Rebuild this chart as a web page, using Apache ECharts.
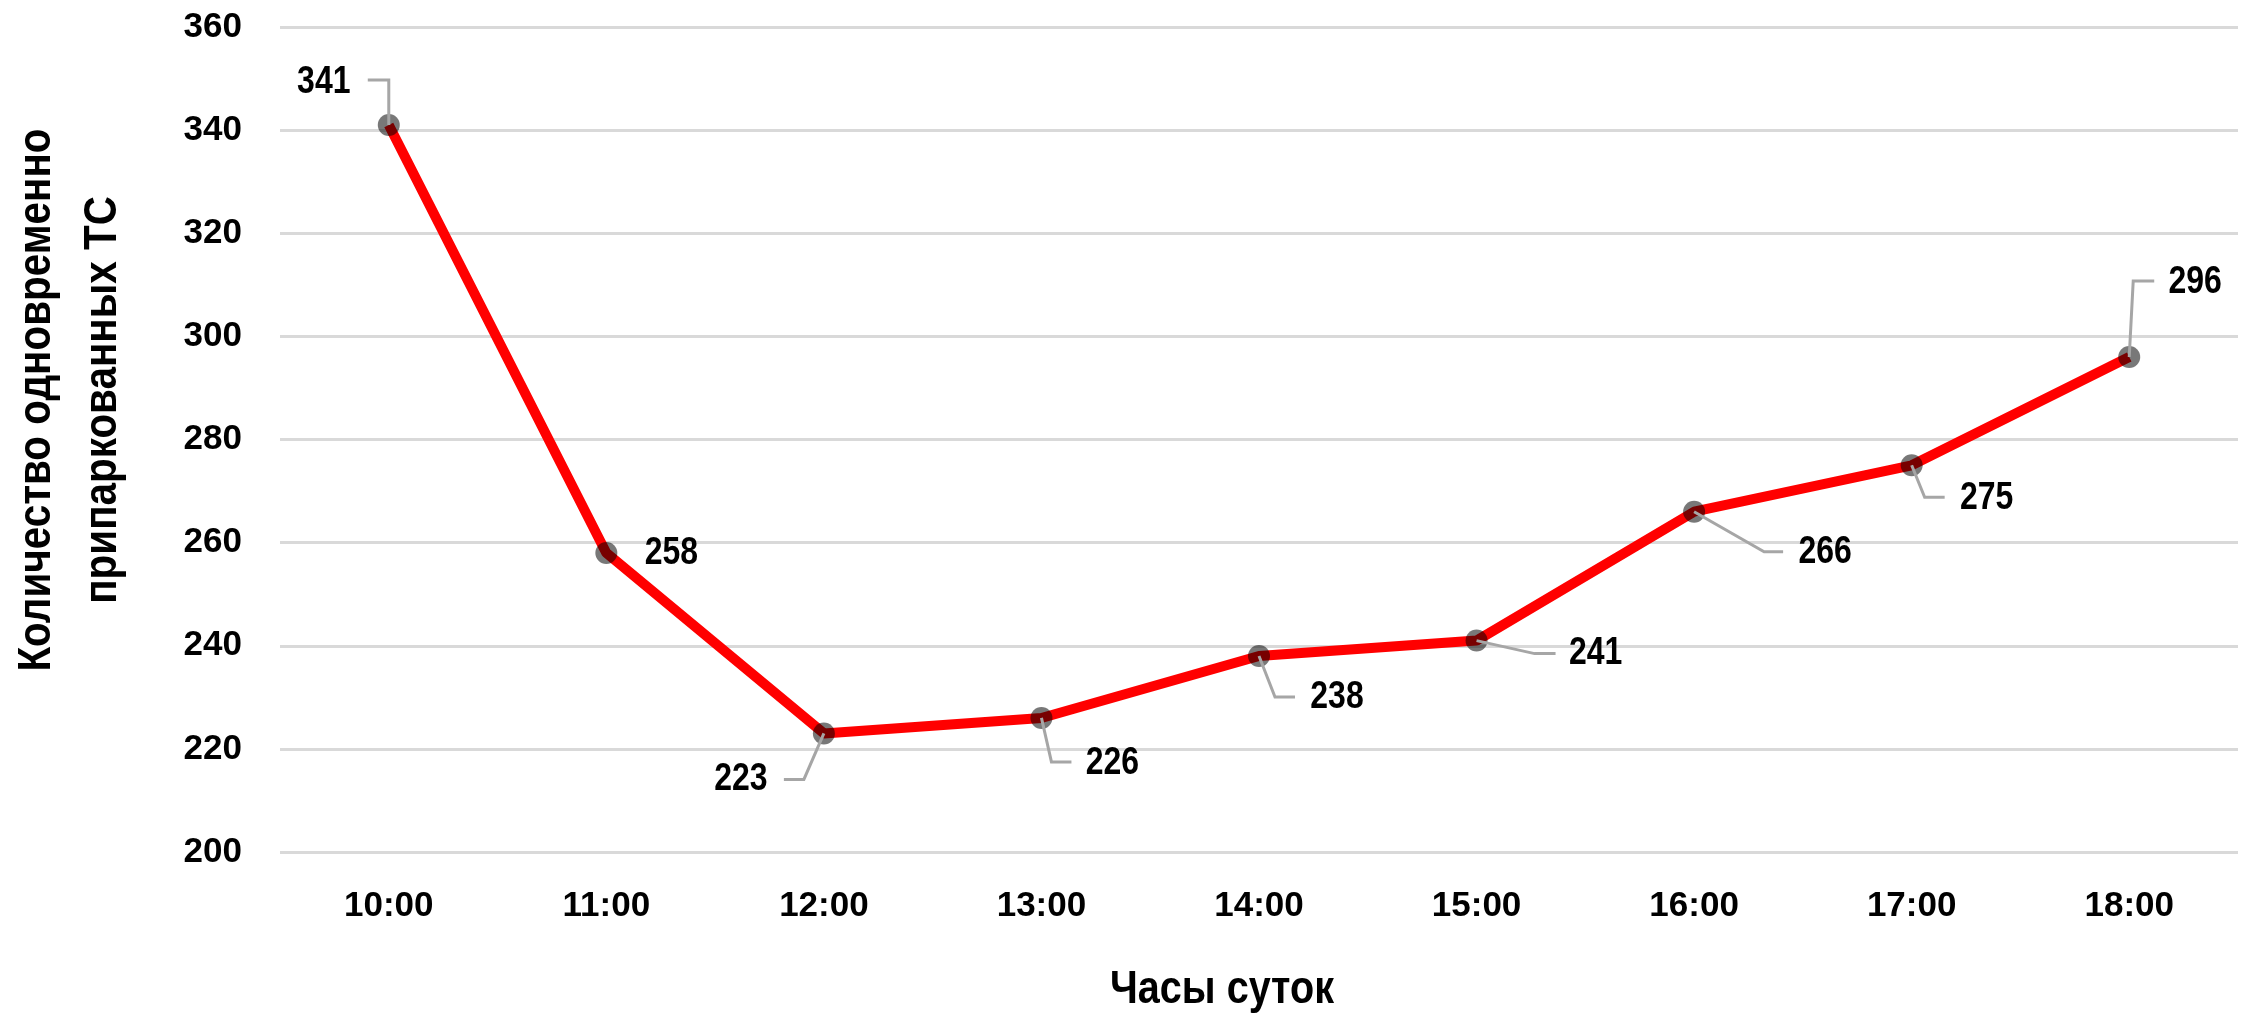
<!DOCTYPE html>
<html>
<head>
<meta charset="utf-8">
<script src="https://cdn.jsdelivr.net/npm/echarts@6/dist/echarts.min.js"></script>
<style>
html,body{margin:0;padding:0;background:#fff;}
#chart{width:2241px;height:1016px;}
</style>
</head>
<body>
<div id="chart"></div>
<script>
const categories = ['10:00','11:00','12:00','13:00','14:00','15:00','16:00','17:00','18:00'];
const parkedVehicles = [341, 258, 223, 226, 238, 241, 266, 275, 296];
const yAxisTitle = 'Количество одновременно\nприпаркованных ТС';
const xAxisTitle = 'Часы суток';

const FONT = "'Liberation Sans', Arial, sans-serif";
const NARROW = 0.82; // horizontal squeeze to imitate a narrow face
const TITLE_NARROW = 0.86;

// label offsets relative to each point: [labelDx, labelDy, elbowDx, elbowDy, endDx] (null elbow = no leader)
const labelPlacement = [
  [-65, -43, 0, -45, -21],
  [65, 0, null, null, null],
  [-83, 46, -20, 46, -40],
  [71, 45, 10, 44, 30],
  [78, 41, 16, 41, 36],
  [119, 13, 58, 13, 79],
  [131, 41, 70, 40, 89],
  [75, 33, 13, 32, 33],
  [66, -75, 4, -76, 25]
];

const chart = echarts.init(document.getElementById('chart'), null, {renderer: 'canvas'});
chart.setOption({
  backgroundColor: '#ffffff',
  animation: false,
  grid: {left: 280, right: 3, top: 27, bottom: 164, containLabel: false},
  xAxis: {
    type: 'category',
    data: categories,
    boundaryGap: true,
    axisLine: {show: false},
    axisTick: {show: false},
    axisLabel: {color: '#000', fontFamily: FONT, fontWeight: 'bold', fontSize: 35, margin: 37}
  },
  yAxis: {
    type: 'value',
    min: 200, max: 360, interval: 20,
    axisLine: {show: false},
    axisTick: {show: false},
    axisLabel: {color: '#000', fontFamily: FONT, fontWeight: 'bold', fontSize: 35, margin: 38},
    splitLine: {show: true, lineStyle: {color: '#d9d9d9', width: 3}}
  },
  graphic: [
    {
      type: 'text', x: 70, y: 400, rotation: Math.PI / 2, scaleX: TITLE_NARROW,
      style: {text: yAxisTitle, x: 0, y: 0, align: 'center', verticalAlign: 'middle',
        font: 'bold 47px ' + FONT, fill: '#000', lineHeight: 66}
    },
    {
      type: 'text', x: 1222, y: 990, scaleX: TITLE_NARROW,
      style: {text: xAxisTitle, x: 0, y: 0, align: 'center', verticalAlign: 'middle',
        font: 'bold 46px ' + FONT, fill: '#000'}
    }
  ],
  series: [{
    type: 'line',
    data: parkedVehicles,
    symbol: 'circle',
    symbolSize: 22,
    lineStyle: {color: '#ff0000', width: 10},
    itemStyle: {color: 'rgba(0,0,0,0.53)', borderWidth: 0},
    label: {show: false},
    emphasis: {disabled: true},
    z: 2
  }, {
    type: 'custom',
    coordinateSystem: 'cartesian2d',
    data: parkedVehicles.map(function (v, i) { return [i, v]; }),
    encode: {x: 0, y: 1},
    z: 3,
    silent: true,
    renderItem: function (params, api) {
      const v = api.value(1);
      const p = api.coord([api.value(0), v]);
      const o = labelPlacement[params.dataIndex];
      const children = [];
      if (o[2] !== null) {
        children.push({
          type: 'polyline',
          shape: {points: [[p[0], p[1]], [p[0] + o[2], p[1] + o[3]], [p[0] + o[4], p[1] + o[3]]]},
          style: {stroke: '#a6a6a6', lineWidth: 3, fill: null}
        });
      }
      children.push({
        type: 'text', x: p[0] + o[0], y: p[1] + o[1], scaleX: NARROW,
        style: {text: String(v), font: 'bold 39px ' + FONT, fill: '#000', align: 'center', verticalAlign: 'middle'}
      });
      return {type: 'group', children: children};
    }
  }]
});
</script>
</body>
</html>
